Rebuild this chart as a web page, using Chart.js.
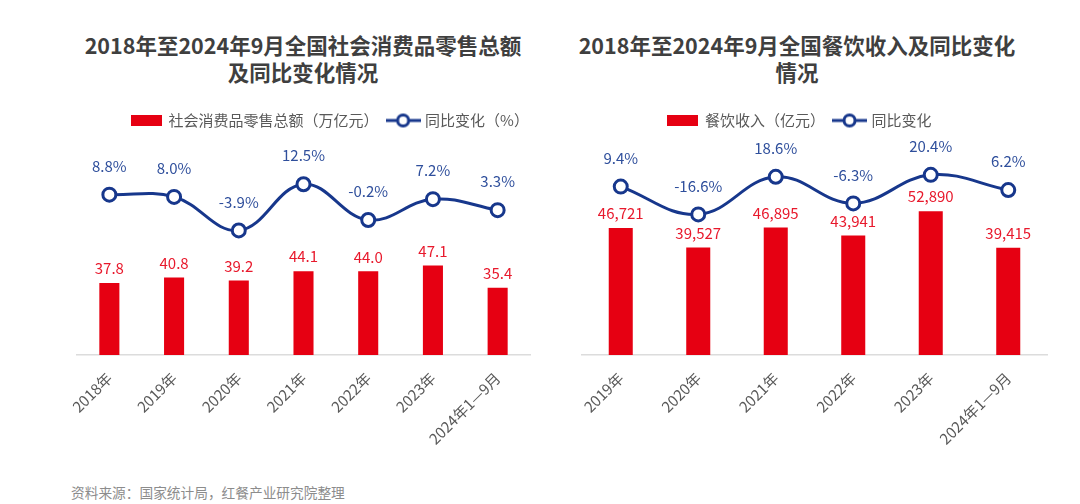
<!DOCTYPE html>
<html>
<head>
<meta charset="utf-8">
<script src="https://cdn.jsdelivr.net/npm/chart.js@4/dist/chart.umd.min.js"></script>
<style>
  html, body { margin: 0; padding: 0; background: #ffffff; }
  body { width: 1080px; height: 504px; position: relative; overflow: hidden;
         font-family: "Noto Sans CJK SC", "Noto Sans", sans-serif; }
  .title { position: absolute; top: 32px; width: 560px; text-align: center;
           font-weight: bold; font-size: 21.5px; line-height: 26.7px; color: #3f3f3f; }
  #t1 { left: 23px; }
  #t2 { left: 517px; }
  .src { position: absolute; left: 71px; top: 482px; font-size: 13.7px; color: #8c8c8c; line-height: 20px; }
  #c1wrap { position: absolute; left: 0; top: 0; width: 600px; height: 504px; }
  #c2wrap { position: absolute; left: 545px; top: 0; width: 535px; height: 504px; }
</style>
</head>
<body>
<div class="title" id="t1">2018年至2024年9月全国社会消费品零售总额<br>及同比变化情况</div>
<div class="title" id="t2">2018年至2024年9月全国餐饮收入及同比变化<br>情况</div>
<div class="src">资料来源：国家统计局，红餐产业研究院整理</div>
<div id="c1wrap"><canvas id="c1" width="600" height="504"></canvas></div>
<div id="c2wrap"><canvas id="c2" width="535" height="504"></canvas></div>
<script>
// ---- data ----
const retailCategories = ["2018年", "2019年", "2020年", "2021年", "2022年", "2023年", "2024年1—9月"];
const retailTotal = [37.8, 40.8, 39.2, 44.1, 44.0, 47.1, 35.4];
const retailYoY = [8.8, 8.0, -3.9, 12.5, -0.2, 7.2, 3.3];
const retailBarLabel = "社会消费品零售总额（万亿元）";
const retailLineLabel = "同比变化（%）";

const cateringCategories = ["2019年", "2020年", "2021年", "2022年", "2023年", "2024年1—9月"];
const cateringRevenue = [46721, 39527, 46895, 43941, 52890, 39415];
const cateringYoY = [9.4, -16.6, 18.6, -6.3, 20.4, 6.2];
const cateringBarLabel = "餐饮收入（亿元）";
const cateringLineLabel = "同比变化";

// ---- styles ----
const RED = "#e60012";
const RED_TEXT = "#e8192c";
const NAVY = "#17378c";
const BLUE_TEXT = "#2f4f9c";
const FONT = '"Noto Sans CJK SC", "Noto Sans", sans-serif';

function makeIcon(kind) {
  const c = document.createElement("canvas");
  if (kind === "bar") {
    c.width = 31; c.height = 11;
    const x = c.getContext("2d");
    x.fillStyle = RED; x.fillRect(0, 0, 31, 11);
  } else {
    c.width = 35; c.height = 16;
    const x = c.getContext("2d");
    x.strokeStyle = NAVY; x.lineWidth = 3;
    x.beginPath(); x.moveTo(0, 8); x.lineTo(35, 8); x.stroke();
    x.beginPath(); x.arc(17.5, 8, 5.5, 0, Math.PI * 2);
    x.fillStyle = "#fff"; x.fill(); x.stroke();
  }
  return c;
}

const labelPlugin = {
  id: "valueLabels",
  afterDatasetsDraw(chart, args, opts) {
    const ctx = chart.ctx;
    ctx.save();
    ctx.font = "15px " + FONT;
    ctx.textAlign = "center";
    ctx.textBaseline = "middle";
    chart.data.datasets.forEach((ds, i) => {
      const meta = chart.getDatasetMeta(i);
      meta.data.forEach((el, j) => {
        const v = ds.data[j];
        if (ds.type === "bar") {
          ctx.fillStyle = RED_TEXT;
          ctx.fillText(opts.barFmt(v), el.x, el.y - 14.5);
        } else {
          ctx.fillStyle = BLUE_TEXT;
          ctx.fillText(v.toFixed(1) + "%", el.x, el.y - 28.5);
        }
      });
    });
    ctx.restore();
  }
};

function buildChart(canvasId, cats, bars, line, barLabel, lineLabel, cfg) {
  return new Chart(document.getElementById(canvasId), {
    data: {
      labels: cats,
      datasets: [
        { type: "line", label: lineLabel, data: line, yAxisID: "yL",
          borderColor: NAVY, borderWidth: 3, tension: 0.4, cubicInterpolationMode: "default",
          pointRadius: 6.5, pointBorderWidth: 3, pointBackgroundColor: "#ffffff",
          pointBorderColor: NAVY, order: 0 },
        { type: "bar", label: barLabel, data: bars, yAxisID: "yB",
          backgroundColor: RED, categoryPercentage: 1, barPercentage: 0.31, order: 1 }
      ]
    },
    options: {
      responsive: false,
      animation: false,
      devicePixelRatio: 1,
      layout: { padding: { left: cfg.padL, right: cfg.padR, top: 103, bottom: 0 } },
      plugins: {
        tooltip: { enabled: false },
        title: { display: false },
        valueLabels: { barFmt: cfg.barFmt },
        legend: {
          display: true,
          position: "top",
          labels: {
            usePointStyle: true,
            pointStyleWidth: 29,
            padding: 10,
            color: "#595959",
            font: { family: FONT, size: 15 },
            generateLabels(chart) {
              return [
                { text: barLabel, pointStyle: makeIcon("bar"), fillStyle: RED, strokeStyle: RED, lineWidth: 0, datasetIndex: 1, fontColor: "#595959" },
                { text: lineLabel, pointStyle: makeIcon("line"), fillStyle: NAVY, strokeStyle: NAVY, lineWidth: 0, datasetIndex: 0, fontColor: "#595959" }
              ];
            }
          }
        }
      },
      scales: {
        x: {
          offset: true,
          grid: { display: false, drawTicks: false },
          border: { display: true, color: "#dcdcdc", width: 1.5 },
          ticks: { color: "#595959", font: { family: FONT, size: 15 }, maxRotation: 45, minRotation: 45, padding: 14, autoSkip: false },
          afterFit(s) { s.height = 504 - 355; }
        },
        yB: {
          position: "left", min: 0, max: cfg.barMax,
          grid: { display: false, drawTicks: false }, border: { display: false },
          ticks: { display: false },
          afterFit(s) { s.width = cfg.wL; }
        },
        yL: {
          position: "right", min: cfg.lineMin, max: cfg.lineMax,
          grid: { display: false, drawTicks: false }, border: { display: false },
          ticks: { display: false },
          afterFit(s) { s.width = cfg.wR; }
        }
      }
    },
    plugins: [labelPlugin]
  });
}

buildChart("c1", retailCategories, retailTotal, retailYoY, retailBarLabel, retailLineLabel, {
  padL: 61, padR: 0, wL: 16, wR: 70,
  barMax: 114.1, lineMin: -48.1, lineMax: 28.9,
  barFmt: v => v.toFixed(1)
});
buildChart("c2", cateringCategories, cateringRevenue, cateringYoY, cateringBarLabel, cateringLineLabel, {
  padL: 0, padR: 25, wL: 37, wR: 8,
  barMax: 79800, lineMin: -148.2, lineMax: 54.9,
  barFmt: v => v.toLocaleString("en-US")
});
</script>
</body>
</html>
